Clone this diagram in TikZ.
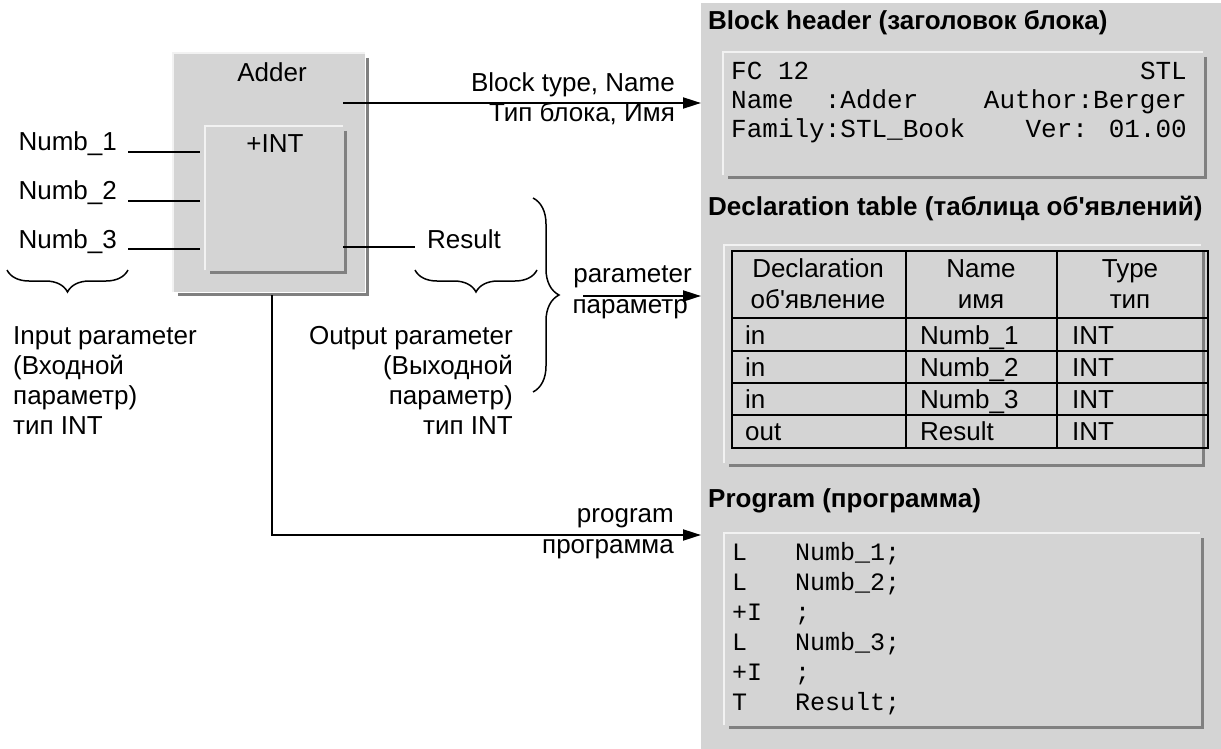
\documentclass[tikz,border=0pt]{standalone}
\usepackage{fontspec}
\setmainfont{Liberation Sans}
\newfontfamily\codefont{Liberation Mono}
\usetikzlibrary{arrows.meta,decorations.pathreplacing,calc}
\definecolor{panelgray}{RGB}{212,212,212}
\definecolor{hilite}{RGB}{242,242,242}
\definecolor{shadowgray}{RGB}{128,128,128}
\newcommand\threed[1]{%
  \draw[hilite,line width=2.5pt] (#1.south west) -- (#1.north west) -- (#1.north east);
  \draw[shadowgray,line width=3.5pt] ($(#1.north east)+(2,5)$) -- ($(#1.south east)+(2,2)$) -- ($(#1.south west)+(5,2)$);}
\tikzset{
  txt/.style={inner sep=0pt, font=\fontsize{26}{30}\selectfont},
  ttl/.style={inner sep=0pt, font=\fontsize{26}{30}\selectfont\bfseries},
  code/.style={inner sep=0pt, font=\fontsize{26}{30}\selectfont\codefont},
  prg/.style={inner sep=0pt, font=\fontsize{25}{30}\selectfont\codefont},
  box/.style={fill=panelgray, inner sep=0pt, anchor=north west},
  conn/.style={line width=2pt},
  arr/.style={line width=2pt, -{Triangle[length=18pt,width=11pt]}},
  brc/.style={line width=1.5pt, decorate, decoration={brace, amplitude=#1}},
  tbl/.style={line width=2pt},
}
\begin{document}
\begin{tikzpicture}[x=1pt,y=-1pt]
\useasboundingbox (0,0) rectangle (1221,749);
% right panel
\node[box, minimum width=520pt, minimum height=746pt] (panel) at (701,3) {};
% adder block
\node[box, minimum width=192pt, minimum height=239pt] (adder) at (173,53) {};
\threed{adder}
\node[box, minimum width=138pt, minimum height=144pt] (inner) at (205,126) {};
\threed{inner}
\node[txt, anchor=base] (addert) at (272,82) {Adder};
\node[txt, anchor=base] (intt) at (275,153) {+INT};
% inputs
\node[txt, anchor=base east] (n1) at (117,151) {Numb\_1};
\node[txt, anchor=base east] (n2) at (117,200) {Numb\_2};
\node[txt, anchor=base east] (n3) at (117,248) {Numb\_3};
\draw[conn] ($(n1.base east)+(11,1)$) -- ($(inner.west |- n1.base)+(-5,1)$);
\draw[conn] ($(n2.base east)+(11,1)$) -- ($(inner.west |- n2.base)+(-5,1)$);
\draw[conn] ($(n3.base east)+(11,1)$) -- ($(inner.west |- n3.base)+(-5,1)$);
% output
\node[txt, anchor=base west] (res) at (427,248) {Result};
\draw[conn] ($(inner.east |- res.base)+(0,-1)$) -- ($(res.base west)+(-12,-1)$);
% braces
\coordinate (ib1) at (128,270); \coordinate (ib2) at (7,270);
\draw[brc=22pt] (ib1) -- (ib2);
\coordinate (ob1) at (537,270); \coordinate (ob2) at (415,270);
\draw[brc=22pt] (ob1) -- (ob2);
\coordinate (pb1) at (533,198); \coordinate (pb2) at (533,392);
\draw[brc=26pt] (pb1) -- (pb2);
% parameter texts
\node[txt, anchor=base west] (ip1) at (13,344) {Input parameter};
\node[txt, anchor=base west] (ip2) at (13,374) {(Входной};
\node[txt, anchor=base west] (ip3) at (13,404) {параметр)};
\node[txt, anchor=base west] (ip4) at (13,434) {тип INT};
\node[txt, anchor=base east] (op1) at (513,344) {Output parameter};
\node[txt, anchor=base east] (op2) at (513,374) {(Выходной};
\node[txt, anchor=base east] (op3) at (513,404) {параметр)};
\node[txt, anchor=base east] (op4) at (513,434) {тип INT};
% connector: block type
\coordinate (btstart) at (343,103);
\draw[arr] (btstart) -- (btstart -| panel.west);
\node[txt, anchor=base east] (bt1) at (675,92) {Block type, Name};
\node[txt, anchor=base east] (bt2) at (675,122) {Тип блока, Имя};
% connector: parameter
\coordinate (pstart) at (583,296);
\draw[arr] (pstart) -- (pstart -| panel.west);
\node[txt, anchor=base east] (pa1) at (692,282) {parameter};
\node[txt, anchor=base east] (pa2) at (688,313) {параметр};
% connector: program
\coordinate (pgstart) at (272,295);
\coordinate (pgturn) at (272,535);
\draw[arr] (pgstart) -- (pgturn) -- (pgturn -| panel.west);
\node[txt, anchor=base east] (pg1) at (674,522) {program};
\node[txt, anchor=base east] (pg2) at (674,553) {программа};
% block header
\node[ttl, anchor=base west] (h1) at (708,30) {Block header (заголовок блока)};
\node[box, minimum width=480pt, minimum height=123pt] (hdr) at (723,52) {};
\threed{hdr}
\node[code, anchor=base west] (c1) at (731,80) {FC 12};
\node[code, anchor=base east] (c2) at (1187,80) {STL};
\node[code, anchor=base west] (c3) at (731,109) {Name\ \ :Adder};
\node[code, anchor=base east] (c4) at (1187,109) {Author:Berger};
\node[code, anchor=base west] (c5) at (731,138) {Family:STL\_Book};
\node[code, anchor=base east] (c6) at (1187,138) {Ver: 01.00};
% declaration table
\node[ttl, anchor=base west] (h2) at (708,215) {Declaration table (таблица об\textquotesingle явлений)};
\node[box, minimum width=477pt, minimum height=218pt] (tblbox) at (724,245) {};
\threed{tblbox}
\node[draw, tbl, inner sep=0pt, anchor=north west, minimum width=476pt, minimum height=197pt] (tab) at (731,250) {};
\draw[tbl] (906,250) -- (906,447);
\draw[tbl] (1057,250) -- (1057,447);
\draw[tbl] (731,318) -- (1207,318);
\draw[tbl] (731,351) -- (1207,351);
\draw[tbl] (731,383) -- (1207,383);
\draw[tbl] (731,415) -- (1207,415);
\node[txt, anchor=base] (th1) at (818,277) {Declaration};
\node[txt, anchor=base] (th2) at (818,308) {об\textquotesingle явление};
\node[txt, anchor=base] (th3) at (981,277) {Name};
\node[txt, anchor=base] (th4) at (981,308) {имя};
\node[txt, anchor=base] (th5) at (1130,277) {Type};
\node[txt, anchor=base] (th6) at (1130,308) {тип};
\node[txt, anchor=base west] (r1a) at (745,344) {in};
\node[txt, anchor=base west] (r1b) at (920,344) {Numb\_1};
\node[txt, anchor=base west] (r1c) at (1072,344) {INT};
\node[txt, anchor=base west] (r2a) at (745,376) {in};
\node[txt, anchor=base west] (r2b) at (920,376) {Numb\_2};
\node[txt, anchor=base west] (r2c) at (1072,376) {INT};
\node[txt, anchor=base west] (r3a) at (745,408) {in};
\node[txt, anchor=base west] (r3b) at (920,408) {Numb\_3};
\node[txt, anchor=base west] (r3c) at (1072,408) {INT};
\node[txt, anchor=base west] (r4a) at (745,440) {out};
\node[txt, anchor=base west] (r4b) at (920,440) {Result};
\node[txt, anchor=base west] (r4c) at (1072,440) {INT};
% program
\node[ttl, anchor=base west] (h3) at (708,507) {Program (программа)};
\node[box, minimum width=476pt, minimum height=192pt] (prog) at (724,533) {};
\threed{prog}
\node[prg, anchor=base west] (p1a) at (732,560) {L};
\node[prg, anchor=base west] (p1b) at (795,560) {Numb\_1;};
\node[prg, anchor=base west] (p2a) at (732,590) {L};
\node[prg, anchor=base west] (p2b) at (795,590) {Numb\_2;};
\node[prg, anchor=base west] (p3a) at (732,620) {+I};
\node[prg, anchor=base west] (p3b) at (795,620) {;};
\node[prg, anchor=base west] (p4a) at (732,650) {L};
\node[prg, anchor=base west] (p4b) at (795,650) {Numb\_3;};
\node[prg, anchor=base west] (p5a) at (732,680) {+I};
\node[prg, anchor=base west] (p5b) at (795,680) {;};
\node[prg, anchor=base west] (p6a) at (732,710) {T};
\node[prg, anchor=base west] (p6b) at (795,710) {Result;};
\end{tikzpicture}
\end{document}
